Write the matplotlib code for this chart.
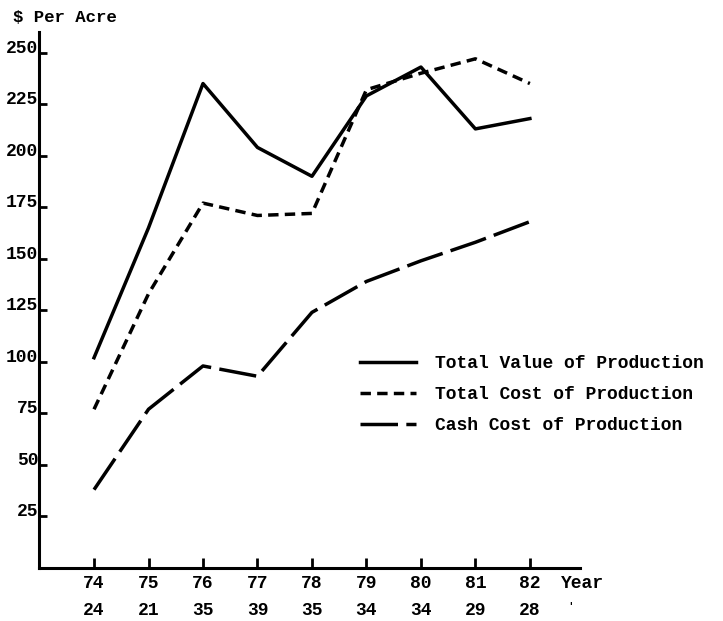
import numpy as np
import matplotlib
matplotlib.use('Agg')
import matplotlib.pyplot as plt

plt.rc('font', family='Liberation Mono', weight='bold', size=13)
plt.rcParams['lines.scale_dashes'] = False

years = [74, 75, 76, 77, 78, 79, 80, 81, 82]
second_row = ['24', '21', '35', '39', '35', '34', '34', '29', '28']
total_value = [102, 165, 235, 204, 190, 229, 243, 213, 218]
total_cost = [77, 133, 177, 171, 172, 232, 240, 247, 235]
cash_cost = [38, 77, 98, 93, 124, 139, 149, 158, 168]
yticks = [25, 50, 75, 100, 125, 150, 175, 200, 225, 250]

W, H = 723, 621
fig = plt.figure(figsize=(W/100, H/100), dpi=100)
ax = fig.add_axes([39/W, 1-568/H, (580-39)/W, (568-32)/H])

ax.plot(years, total_value, color='black', lw=2.5, ls='-',
        label='Total Value of Production')
ax.plot(years, total_cost, color='black', lw=2.5, ls=(0, (7.5, 4.5)),
        label='Total Cost of Production')
ax.plot(years, cash_cost, color='black', lw=2.5, ls=(0, (27, 6)),
        label='Cash Cost of Production')

ax.set_xlim(72.99, 82.92)
ax.set_ylim(0, 260)

for s in ['top', 'right']:
    ax.spines[s].set_visible(False)
for s in ['left', 'bottom']:
    ax.spines[s].set_linewidth(2.2)

ax.set_yticks(yticks)
ax.set_yticklabels([str(v) for v in yticks])
for lab in ax.get_yticklabels():
    lab.set_verticalalignment('baseline')
ax.tick_params(axis='y', direction='in', length=6, width=2, pad=0.5, labelsize=13)

ax.set_xticks(years)
ax.set_xticklabels([f'{y}\n{s}' for y, s in zip(years, second_row)],
                   linespacing=1.75)
ax.tick_params(axis='x', direction='in', length=7, width=2, pad=5, labelsize=13)

fig.text(13/W, 1-18/H, '$ Per Acre', ha='left', va='center', fontsize=12.5)
fig.text(561/W, 1-584/H, 'Year', ha='left', va='center', fontsize=13)
fig.text(567/W, 1-607/H, "'", ha='left', va='center', fontsize=8)

leg = ax.legend(loc='upper left', bbox_to_anchor=(360/W, 1-355/H),
                bbox_transform=fig.transFigure, frameon=False,
                borderpad=0, borderaxespad=0, handlelength=3.1,
                handletextpad=1.05, labelspacing=0.78, fontsize=13)

fig.savefig('out.png', dpi=100)
